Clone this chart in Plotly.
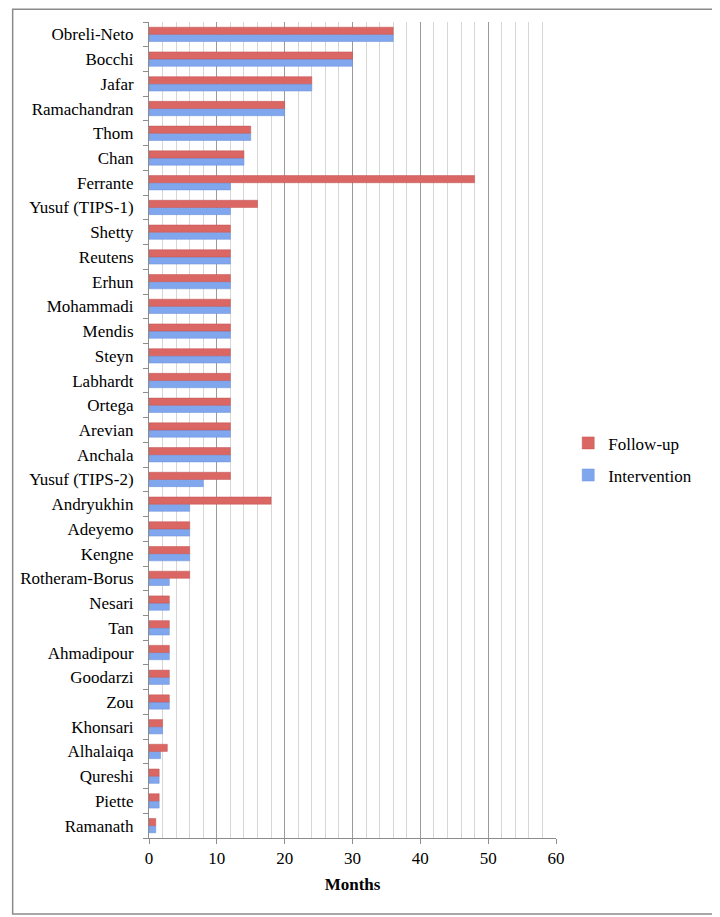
import plotly.graph_objects as go

# Studies, top to bottom as in the chart
studies = [
    "Obreli-Neto", "Bocchi", "Jafar", "Ramachandran", "Thom", "Chan", "Ferrante",
    "Yusuf (TIPS-1)", "Shetty", "Reutens", "Erhun", "Mohammadi", "Mendis", "Steyn",
    "Labhardt", "Ortega", "Arevian", "Anchala", "Yusuf (TIPS-2)", "Andryukhin",
    "Adeyemo", "Kengne", "Rotheram-Borus", "Nesari", "Tan", "Ahmadipour",
    "Goodarzi", "Zou", "Khonsari", "Alhalaiqa", "Qureshi", "Piette", "Ramanath",
]
follow_up = [
    36, 30, 24, 20, 15, 14, 48,
    16, 12, 12, 12, 12, 12, 12,
    12, 12, 12, 12, 12, 18,
    6, 6, 6, 3, 3, 3,
    3, 3, 2, 2.7, 1.5, 1.5, 1,
]
intervention = [
    36, 30, 24, 20, 15, 14, 12,
    12, 12, 12, 12, 12, 12, 12,
    12, 12, 12, 12, 8, 6,
    6, 6, 3, 3, 3, 3,
    3, 3, 2, 1.7, 1.5, 1.5, 1,
]

FONT = "'Liberation Serif', 'Times New Roman', serif"

fig = go.Figure()

# intervention first so it sits below follow-up within each group
fig.add_trace(go.Bar(
    y=studies, x=intervention, orientation="h", name="Intervention",
    legendrank=2, legendgroup="int",
    marker=dict(color="#80a7ee", line=dict(color="#6a8fd8", width=0.5)),
))
fig.add_trace(go.Bar(
    y=studies, x=follow_up, orientation="h", name="Follow-up",
    legendrank=1, legendgroup="fu",
    marker=dict(color="#db6764", line=dict(color="#c25350", width=0.5)),
))

# page body has an 8px margin, so the figure is 8px smaller each way
fig.update_layout(
    width=712, height=909,
    margin=dict(l=138, r=164, t=14, b=79),
    paper_bgcolor="white", plot_bgcolor="white",
    barmode="group", bargap=0.42, bargroupgap=0,
    font=dict(family=FONT, size=17, color="black"),
    legend=dict(
        x=1.03, xanchor="left", y=0.464, yanchor="middle",
        traceorder="grouped", tracegroupgap=7,
        font=dict(family=FONT, size=17),
    ),
    xaxis=dict(
        range=[0, 60], dtick=10, tick0=0,
        showgrid=True, gridcolor="#9a9a9a", gridwidth=1,
        minor=dict(dtick=2, showgrid=True, gridcolor="#d6d6d6", gridwidth=1),
        showline=True, linecolor="#8c8c8c", linewidth=1,
        ticks="outside", ticklen=5, tickcolor="#8c8c8c",
        zeroline=False,
        title=dict(text="<b>Months</b>", font=dict(family=FONT, size=17), standoff=10),
        tickfont=dict(family=FONT, size=17),
    ),
    yaxis=dict(
        categoryorder="array", categoryarray=studies[::-1],
        showgrid=False, zeroline=False,
        showline=True, linecolor="#8c8c8c", linewidth=1,
        ticks="outside", ticklen=5, tickcolor="#8c8c8c",
        tickson="boundaries", ticklabelstandoff=11,
        tickfont=dict(family=FONT, size=17),
    ),
    shapes=[dict(
        type="rect", xref="paper", yref="paper",
        x0=-0.335, x1=1.393, y0=-0.0932, y1=1.0155,
        line=dict(color="#8a8a8a", width=1.5), fillcolor="rgba(0,0,0,0)",
        layer="below",
    )],
)

fig.write_html("out.html")
